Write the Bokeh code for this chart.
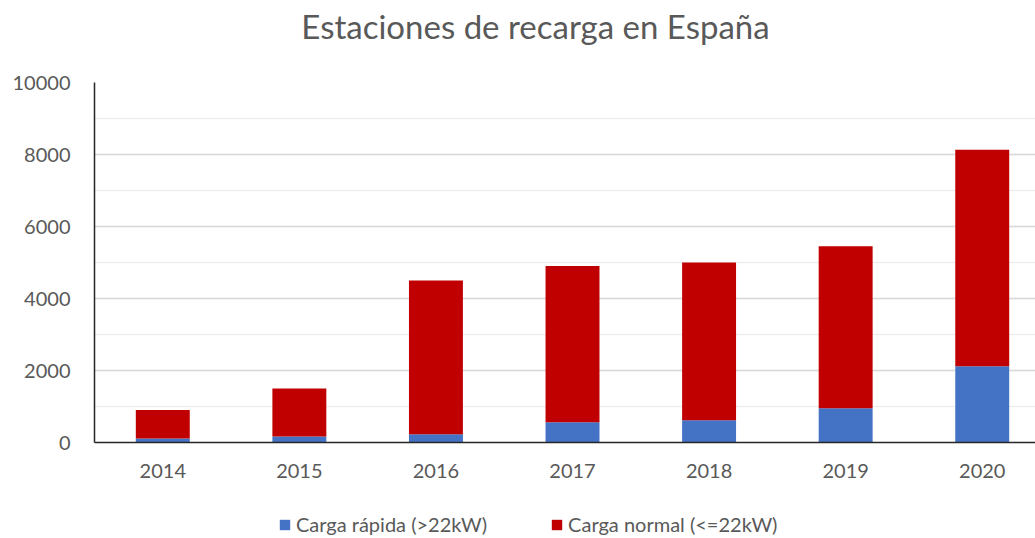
from bokeh.plotting import figure
from bokeh.layouts import column
from bokeh.models import (ColumnDataSource, Range1d, SingleIntervalTicker, FixedTicker,
                          Legend, LegendItem, Label)
from bokeh.embed import file_html
from bokeh.resources import INLINE

years = [2014, 2015, 2016, 2017, 2018, 2019, 2020]
carga_rapida = [110, 170, 230, 560, 620, 950, 2120]
carga_normal = [790, 1330, 4270, 4340, 4380, 4500, 6010]
series_names = ["Carga rápida (>22kW)", "Carga normal (<=22kW)"]
colors = ["#4472C4", "#C00000"]
title_text = "Estaciones de recarga en España"

FONT = "Lato"
GRAY = "#595959"
W = 1035
LEFT = 94


def strip(height):
    f = figure(width=W, height=height, output_backend="svg", toolbar_location=None,
               x_range=Range1d(LEFT, W), y_range=Range1d(0, height),
               min_border_left=LEFT, min_border_right=0, min_border_top=0, min_border_bottom=0)
    f.axis.visible = False
    f.grid.visible = False
    f.outline_line_color = None
    return f


# title strip
ts = strip(60)
ts.add_layout(Label(x=535, y=35, text=title_text, text_align="center",
                    text_baseline="alphabetic", text_font=FONT, text_font_size="33px",
                    text_color=GRAY))

source = ColumnDataSource(dict(year=years, rapida=carga_rapida, normal=carga_normal))

p = figure(width=W, height=440, output_backend="svg", toolbar_location=None,
           x_range=Range1d(2013.5, 2020.39), y_range=Range1d(0, 10000),
           min_border_left=LEFT, min_border_right=0, min_border_top=22, min_border_bottom=58)
p.outline_line_color = None

rs = p.vbar_stack(["rapida", "normal"], x="year", width=0.395, color=colors,
                  line_color=None, source=source)

p.xaxis.ticker = FixedTicker(ticks=years)
p.yaxis.ticker = SingleIntervalTicker(interval=2000, num_minor_ticks=2)
for ax in (p.xaxis[0], p.yaxis[0]):
    ax.major_tick_line_color = None
    ax.minor_tick_line_color = None
    ax.major_label_text_font = FONT
    ax.major_label_text_font_size = "20px"
    ax.major_label_text_color = GRAY
    ax.axis_line_color = "#262626"
    ax.axis_line_width = 1.5
p.yaxis.major_label_standoff = 18
p.xaxis.major_label_standoff = 15

p.xgrid.grid_line_color = None
p.ygrid.grid_line_color = "#d9d9d9"
p.ygrid.grid_line_width = 1.5
p.ygrid.minor_grid_line_color = "#eeeeee"
p.ygrid.minor_grid_line_width = 1.5

# legend strip below the chart (its bars lie outside the strip's range, only the legend shows)
lg = strip(36)
leg_rs = lg.vbar_stack(["rapida", "normal"], x="year", width=0.395, color=colors,
                       line_color=None, source=source)
legend = Legend(items=[LegendItem(label=n, renderers=[r]) for n, r in zip(series_names, leg_rs)],
                orientation="horizontal", location=(280 - LEFT - 2, 0),
                label_text_font=FONT, label_text_font_size="20px", label_text_color=GRAY,
                glyph_width=13, glyph_height=13, spacing=63, label_standoff=5,
                border_line_color=None, background_fill_alpha=0, padding=2, margin=0)
lg.add_layout(legend, "center")

layout = column(ts, p, lg, spacing=0)
open("out.html", "w").write(file_html(layout, INLINE))
